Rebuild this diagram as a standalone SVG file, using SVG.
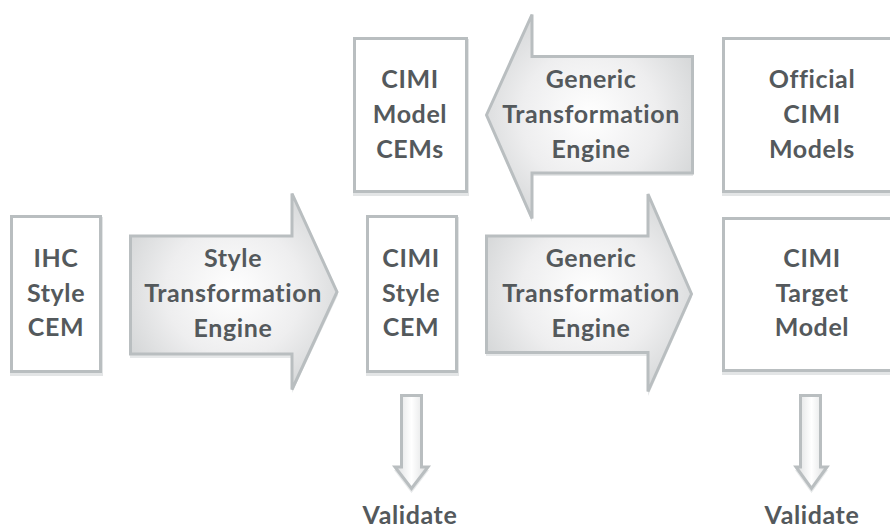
<svg xmlns="http://www.w3.org/2000/svg" width="890" height="529" viewBox="0 0 890 529">
  <defs>
    <radialGradient id="ag" cx="50%" cy="50%" r="60%">
      <stop offset="0" stop-color="#ffffff"/>
      <stop offset="0.55" stop-color="#eeeeef"/>
      <stop offset="1" stop-color="#d3d5d6"/>
    </radialGradient>
    <linearGradient id="vg" x1="0" y1="0" x2="1" y2="0">
      <stop offset="0" stop-color="#dcdedf"/>
      <stop offset="0.5" stop-color="#ffffff"/>
      <stop offset="1" stop-color="#dcdedf"/>
    </linearGradient>
  </defs>
  <style>
    .box { fill: #ffffff; stroke: #b9bec0; stroke-width: 3; }
    .shadow { fill: #e3e5e6; stroke: none; }
    .arrow { fill: url(#ag); stroke: #b9bec0; stroke-width: 3; stroke-linejoin: miter; }
    .varrow { fill: url(#vg); stroke: #b9bec0; stroke-width: 3; stroke-linejoin: miter; }
    .ashadow { fill: #e6e8e9; stroke: none; }
    text { font-family: Lato, "Open Sans", "Liberation Sans", sans-serif; font-weight: 700; font-size: 25px; letter-spacing: 0.6px; fill: #54595c; text-anchor: middle; }
  </style>
  <rect width="890" height="529" fill="#ffffff"/>

  <g id="ihc-style-cem">
    <rect class="shadow" x="10" y="217" width="93" height="159"/>
    <rect class="box" x="11.5" y="216.5" width="89" height="155"/>
    <text x="56" y="267">IHC</text>
    <text x="56" y="302">Style</text>
    <text x="56" y="336">CEM</text>
  </g>

  <g id="style-transformation-engine">
    <polygon class="ashadow" points="130,239 292,239 292,196 338,295 292,393 292,358 130,358"/>
    <polygon class="arrow" points="130.5,236 292,236 292,193.5 337,292 292,389.5 292,354 130.5,354"/>
    <text x="233" y="267">Style</text>
    <text x="233" y="302">Transformation</text>
    <text x="233" y="337">Engine</text>
  </g>

  <g id="cimi-model-cems">
    <rect class="shadow" x="353" y="39" width="116" height="157"/>
    <rect class="box" x="354.5" y="38.5" width="112" height="153"/>
    <text x="410" y="88">CIMI</text>
    <text x="410" y="123">Model</text>
    <text x="410" y="158">CEMs</text>
  </g>

  <g id="generic-transformation-engine-top">
    <polygon class="ashadow" points="487,118 532,17 532,59 693,59 693,176 532,176 532,222"/>
    <polygon class="arrow" points="486.5,115 532,14.5 532,56.5 692.5,56.5 692.5,173 532,173 532,218.5"/>
    <text x="591" y="88">Generic</text>
    <text x="591" y="123">Transformation</text>
    <text x="591" y="158">Engine</text>
  </g>

  <g id="official-cimi-models">
    <rect class="shadow" x="722" y="39" width="184" height="157"/>
    <rect class="box" x="723.5" y="38.5" width="180" height="153"/>
    <text x="812" y="88">Official</text>
    <text x="812" y="123">CIMI</text>
    <text x="812" y="158">Models</text>
  </g>

  <g id="cimi-style-cem">
    <rect class="shadow" x="366" y="217" width="93" height="159"/>
    <rect class="box" x="367.5" y="216.5" width="89" height="155"/>
    <text x="411" y="267">CIMI</text>
    <text x="411" y="302">Style</text>
    <text x="411" y="336">CEM</text>
  </g>

  <g id="generic-transformation-engine-bottom">
    <polygon class="ashadow" points="486,239 648,239 648,197 692,297 648,396 648,356 486,356"/>
    <polygon class="arrow" points="486.5,236 648,236 648,194 691.5,294 648,391.5 648,352.5 486.5,352.5"/>
    <text x="591" y="267">Generic</text>
    <text x="591" y="302">Transformation</text>
    <text x="591" y="337">Engine</text>
  </g>

  <g id="cimi-target-model">
    <rect class="shadow" x="722" y="219" width="184" height="156"/>
    <rect class="box" x="723.5" y="218.5" width="180" height="152"/>
    <text x="812" y="267">CIMI</text>
    <text x="812" y="302">Target</text>
    <text x="812" y="336">Model</text>
  </g>

  <g id="connectors">
    <polygon class="ashadow" points="402,398 422,398 422,470 429,470 411.5,493 394,470 402,470"/>
    <polygon class="varrow" points="401.5,395.5 421.5,395.5 421.5,467 428,467 411.5,488.5 395,467 401.5,467"/>
    <polygon class="ashadow" points="801,398 821,398 821,470 828,470 811.5,493 795,470 801,470"/>
    <polygon class="varrow" points="800.5,395.5 820.5,395.5 820.5,467 827,467 811.5,488.5 796,467 800.5,467"/>
  </g>

  <g id="validate-left">
    <text x="410" y="524">Validate</text>
  </g>
  <g id="validate-right">
    <text x="812" y="524">Validate</text>
  </g>
</svg>
